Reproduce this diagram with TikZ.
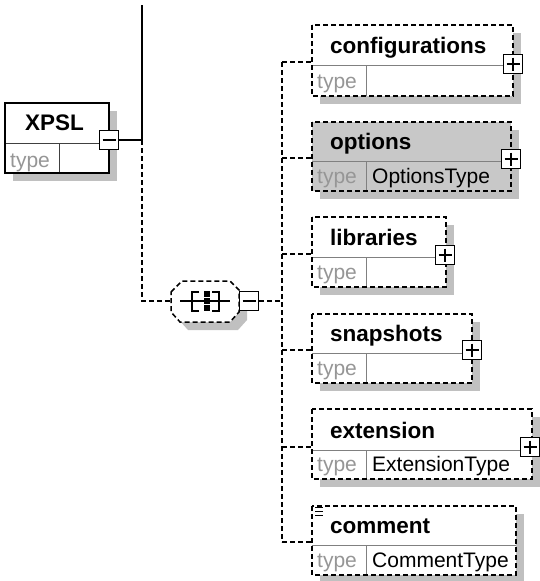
\documentclass[tikz,border=0pt]{standalone}
\usepackage{fontspec}
\setmainfont{Liberation Sans}
\usetikzlibrary{calc}
\definecolor{shadowgray}{RGB}{192,192,192}
\definecolor{optfill}{RGB}{200,200,200}
\definecolor{typegray}{RGB}{150,150,150}
\tikzset{
  conn/.style={line width=1.5pt, dash pattern=on 5pt off 3pt},
  solidconn/.style={line width=1.5pt},
  rowline/.style={line width=1pt, draw=gray},
  shadowfill/.style={fill=shadowgray},
  namefont/.style={font=\fontsize{22.5}{26}\selectfont\bfseries, inner sep=0pt, anchor=base west},
  typefont/.style={font=\fontsize{21}{25}\selectfont, inner sep=0pt, anchor=base west},
  btn/.style={draw, fill=white, line width=1.5pt, minimum size=19pt, inner sep=0pt},
  minusbtn/.style={btn, path picture={
      \draw[line width=1.5pt] ([xshift=3pt]path picture bounding box.west) -- ([xshift=-3pt]path picture bounding box.east);}},
  plusbtn/.style={btn, path picture={
      \draw[line width=1.5pt] ([xshift=3pt]path picture bounding box.west) -- ([xshift=-3pt]path picture bounding box.east);
      \draw[line width=1.5pt] ([yshift=-3pt]path picture bounding box.north) -- ([yshift=3pt]path picture bounding box.south);}}
}
% element box: name, fill, (left,top,right,bottom,divider), label, type
\def\elembox#1[#2](#3,#4,#5,#6,#7)#8#9{%
  \fill[shadowfill] (#3+8,#4+8) rectangle (#5+8,#6+8);
  \fill[#2] (#3,#4) rectangle (#5,#6);
  \draw[rowline] (#3,#7) -- (#5,#7);
  \draw[rowline] (#3+54,#7) -- (#3+54,#6);
  \draw[conn] (#3,#4) rectangle (#5,#6);
  \node[namefont] (#1) at (#3+18,#7-12) {#8};
  \node[typefont, typegray] (#1-kw) at (#3+5,#6-8) {type};
  \node[typefont] (#1-type) at (#3+60,#6-8) {#9};
  \coordinate (#1-in) at (#3,#7-3);
}

\begin{document}
\begin{tikzpicture}[x=1pt, y=-1pt]
			%%%%% START %%%%%
			\useasboundingbox (0,0) rectangle (540,581);
			
			% root element
			\fill[shadowfill] (13,111) rectangle (117,181);
			\fill[white] (5,103) rectangle (109,173);
			\draw[rowline, draw=black!75] (5,143) -- (109,143);
			\draw[rowline, draw=black!75] (59,143) -- (59,173);
			\draw[solidconn] (5,103) rectangle (109,173);
			\node[namefont] (xpsl) at (25,130) {XPSL};
			\node[typefont, typegray] (xpsl-kw) at (10,167) {type};
			\node[minusbtn] (xpsl-btn) at (109,140) {};
			
			\coordinate (root-top) at (142,5);
			\coordinate (root) at (142,140);
			\draw[solidconn] (xpsl-btn.east) -- (root) -- (root-top);
			
			% sequence
			\fill[shadowfill] (179,300) -- (190,289) -- (238,289) -- (247,298) -- (247,320) -- (238,330) -- (188,330) -- (179,320) -- cycle;
			\draw[conn, fill=white] (171,292) -- (182,281) -- (230,281) -- (239,290) -- (239,312) -- (230,322) -- (180,322) -- (171,312) -- cycle;
			\coordinate (seq-in) at (171,301);
			\draw[solidconn] (180,301) -- (230,301);
			\draw[solidconn] (199,292) -- (192,292) -- (192,311) -- (199,311);
			\draw[solidconn] (212,292) -- (219,292) -- (219,311) -- (212,311);
			\foreach \y in {294,301,308}
				\fill (203.5,\y-3) rectangle (209.5,\y+3);
			\node[minusbtn] (seq-btn) at (249,301) {};
			\draw[conn] (root) |- (seq-in);
			
			% children
			\elembox configurations[white](312,25,513,96,65){configurations}{}
			\elembox options[optfill](312,122,511,191,161){options}{OptionsType}
			\elembox libraries[white](312,217,446,287,257){libraries}{}
			\elembox snapshots[white](312,314,472,383,353){snapshots}{}
			\elembox extension[white](312,409,532,479,450){extension}{ExtensionType}
			\elembox comment[white](312,506,516,575,545){comment}{CommentType}
			
			\foreach \y in {507,511,515}
				\draw[line width=1pt] (315,\y) -- (323,\y);
			
			\node[plusbtn] (configurations-btn) at (513,64) {};
			\node[plusbtn] (options-btn) at (511,159) {};
			\node[plusbtn] (libraries-btn) at (445,255) {};
			\node[plusbtn] (snapshots-btn) at (472,350) {};
			\node[plusbtn] (extension-btn) at (530,447) {};
			
			% connectors
			\coordinate (trunk) at (282,301);
			\draw[conn] (seq-btn.east) -- (trunk);
			\draw[conn] (configurations-in -| trunk) -- (comment-in -| trunk);
			\foreach \e in {configurations,options,libraries,snapshots,extension,comment}
				\draw[conn] (\e-in -| trunk) -- (\e-in);
			
			%%%%% END %%%%%
\end{tikzpicture}
\end{document}
